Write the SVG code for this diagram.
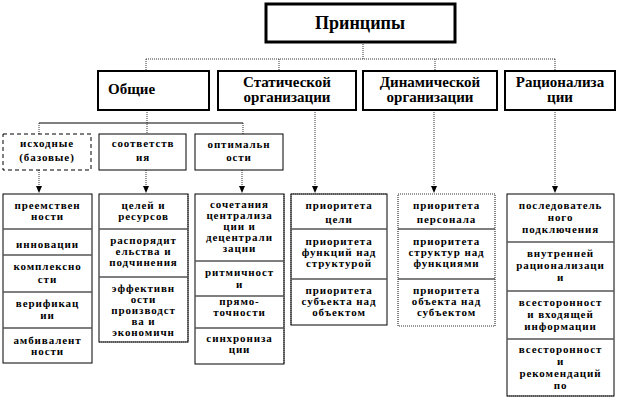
<svg xmlns="http://www.w3.org/2000/svg" width="620" height="400" viewBox="0 0 620 400" font-family="'Liberation Serif', 'Times New Roman', serif">
<style>
text{font-family:'Liberation Serif','Times New Roman',serif;font-weight:bold;fill:#000;text-anchor:middle}
.t{font-size:11px;letter-spacing:0.9px}
.sub{font-size:11px;letter-spacing:0.9px}
.cat{font-size:15px}
.top{font-size:18px}
.box{fill:#fff;stroke:#000;stroke-width:1}
.catbox{fill:#fff;stroke:#000;stroke-width:2}
.topbox{fill:#fff;stroke:#000;stroke-width:3}
.dash{fill:#fff;stroke:#000;stroke-width:1;stroke-dasharray:4,3}
.div{stroke:#555;stroke-width:1.5}
.dot{fill:none;stroke:#333;stroke-width:1;stroke-dasharray:1,1}
.solid{fill:none;stroke:#000;stroke-width:1}
.dotb{fill:none;stroke:#333;stroke-width:1.2;stroke-dasharray:1,1}
</style>
<defs>
<marker id="arr" markerWidth="7" markerHeight="6" refX="6" refY="3" orient="auto" markerUnits="userSpaceOnUse">
<path d="M0,0 L7,3 L0,6 Z" fill="#000"/>
</marker>
</defs>
<rect width="620" height="400" fill="#fff"/>

<g id="connectors">
<path class="dot" d="M363,42 V59 M146,59 H555 M146,59 V71 M279,59 V71 M435,59 V71 M555,59 V71"/>
<path class="dot" d="M147,110 V134 M39,123 V134 M243,123 V134"/>
<path class="solid" d="M39,123 H243"/>
<path class="dot" d="M39,170 V192" marker-end="url(#arr)"/>
<path class="dot" d="M146,170 V192" marker-end="url(#arr)"/>
<path class="dot" d="M242,170 V192" marker-end="url(#arr)"/>
<path class="dot" d="M315,110 V192" marker-end="url(#arr)"/>
<path class="dot" d="M434,110 V192" marker-end="url(#arr)"/>
<path class="dot" d="M555,110 V192" marker-end="url(#arr)"/>
</g>

<g id="n-principles">
<rect class="topbox" x="266" y="4" width="189" height="38"/>
<text class="top" x="360" y="29">Принципы</text>
</g>

<g id="n-general">
<rect class="catbox" x="98" y="71" width="111" height="39"/>
<text class="cat" x="108" y="94" style="text-anchor:start">Общие</text>
</g>
<g id="n-static">
<rect class="catbox" x="218" y="71" width="138" height="39"/>
<text class="cat" x="287" y="87">Статической</text>
<text class="cat" x="287" y="102">организации</text>
</g>
<g id="n-dynamic">
<rect class="catbox" x="363" y="71" width="134" height="39"/>
<text class="cat" x="430" y="87">Динамической</text>
<text class="cat" x="430" y="102">организации</text>
</g>
<g id="n-rational">
<rect class="catbox" x="505" y="71" width="110" height="39"/>
<text class="cat" x="560" y="87">Рационализа</text>
<text class="cat" x="560" y="102">ции</text>
</g>

<g id="n-base">
<rect class="dash" x="3" y="134" width="88" height="36"/>
<text class="sub" x="47" y="147">исходные</text>
<text class="sub" x="47" y="161">(базовые)</text>
</g>
<g id="n-match">
<rect class="box" x="99" y="134" width="87" height="36"/>
<text class="sub" x="143" y="147">соответств</text>
<text class="sub" x="143" y="161">ия</text>
</g>
<g id="n-optimal">
<rect class="box" x="195" y="134" width="88" height="36"/>
<text class="sub" x="239" y="148">оптимальн</text>
<text class="sub" x="239" y="161">ости</text>
</g>

<g id="col1">
<rect class="box" x="3" y="194" width="89" height="169"/>
<path class="div" d="M3,229 H92 M3,255 H92 M3,292 H92 M3,328 H92"/>
<text class="t" x="47.5" y="209">преемствен</text>
<text class="t" x="47.5" y="220">ности</text>
<text class="t" x="47.5" y="248">инновации</text>
<text class="t" x="47.5" y="270">комплексно</text>
<text class="t" x="47.5" y="283">сти</text>
<text class="t" x="47.5" y="307">верификац</text>
<text class="t" x="47.5" y="319">ии</text>
<text class="t" x="47.5" y="344">амбивалент</text>
<text class="t" x="47.5" y="355">ности</text>
</g>

<g id="col2">
<rect class="box" x="99" y="194" width="89" height="148"/>
<path class="dotb" d="M188,194 V342 M99,342 H188"/>
<path class="div" d="M99,229 H188 M99,277 H188"/>
<text class="t" x="143.5" y="209">целей и</text>
<text class="t" x="143.5" y="220">ресурсов</text>
<text class="t" x="143.5" y="244">распорядит</text>
<text class="t" x="143.5" y="255">ельства и</text>
<text class="t" x="143.5" y="266">подчинения</text>
<text class="t" x="143.5" y="292">эффективн</text>
<text class="t" x="143.5" y="303">ости</text>
<text class="t" x="143.5" y="314">производст</text>
<text class="t" x="143.5" y="325">ва и</text>
<text class="t" x="143.5" y="336">экономичн</text>
</g>

<g id="col3">
<rect class="box" x="195" y="194" width="89" height="170"/>
<path class="dotb" d="M284,194 V364"/>
<path class="div" d="M195,261 H284 M195,296 H284 M195,328 H284"/>
<text class="t" x="239.5" y="208">сочетания</text>
<text class="t" x="239.5" y="219">централиза</text>
<text class="t" x="239.5" y="230">ции и</text>
<text class="t" x="239.5" y="241">децентрали</text>
<text class="t" x="239.5" y="252">зации</text>
<text class="t" x="239.5" y="276">ритмичност</text>
<text class="t" x="239.5" y="288">и</text>
<text class="t" x="239.5" y="305">прямо-</text>
<text class="t" x="239.5" y="316">точности</text>
<text class="t" x="239.5" y="342">синхрониза</text>
<text class="t" x="239.5" y="353">ции</text>
</g>

<g id="col4">
<rect class="box" x="291" y="194" width="96" height="131"/>
<path class="dotb" d="M291,194 H387 M291,194 V325"/>
<path class="div" d="M291,229 H387 M291,279 H387"/>
<text class="t" x="339" y="209">приоритета</text>
<text class="t" x="339" y="223">цели</text>
<text class="t" x="339" y="245">приоритета</text>
<text class="t" x="339" y="256">функций над</text>
<text class="t" x="339" y="267">структурой</text>
<text class="t" x="339" y="294">приоритета</text>
<text class="t" x="339" y="305">субъекта над</text>
<text class="t" x="339" y="316">объектом</text>
</g>

<g id="col5">
<rect x="398" y="194" width="97" height="132" fill="#fff" stroke="#333" stroke-width="1.2" stroke-dasharray="1,1"/>
<path class="div" d="M398,229 H495 M398,279 H495"/>
<text class="t" x="446.5" y="209">приоритета</text>
<text class="t" x="446.5" y="223">персонала</text>
<text class="t" x="446.5" y="245">приоритета</text>
<text class="t" x="446.5" y="256">структур над</text>
<text class="t" x="446.5" y="267">функциями</text>
<text class="t" x="446.5" y="294">приоритета</text>
<text class="t" x="446.5" y="305">объекта над</text>
<text class="t" x="446.5" y="316">субъектом</text>
</g>

<g id="col6">
<rect class="box" x="507" y="194" width="107" height="202"/>
<path class="dotb" d="M507,396 H614"/>
<path class="div" d="M507,242 H614 M507,291 H614 M507,339 H614"/>
<text class="t" x="560.5" y="209">последователь</text>
<text class="t" x="560.5" y="221">ного</text>
<text class="t" x="560.5" y="233">подключения</text>
<text class="t" x="560.5" y="257">внутренней</text>
<text class="t" x="560.5" y="269">рационализаци</text>
<text class="t" x="560.5" y="281">и</text>
<text class="t" x="560.5" y="306">всесторонност</text>
<text class="t" x="560.5" y="318">и входящей</text>
<text class="t" x="560.5" y="330">информации</text>
<text class="t" x="560.5" y="353">всесторонност</text>
<text class="t" x="560.5" y="365">и</text>
<text class="t" x="560.5" y="377">рекомендаций</text>
<text class="t" x="560.5" y="389">по</text>
</g>
</svg>
